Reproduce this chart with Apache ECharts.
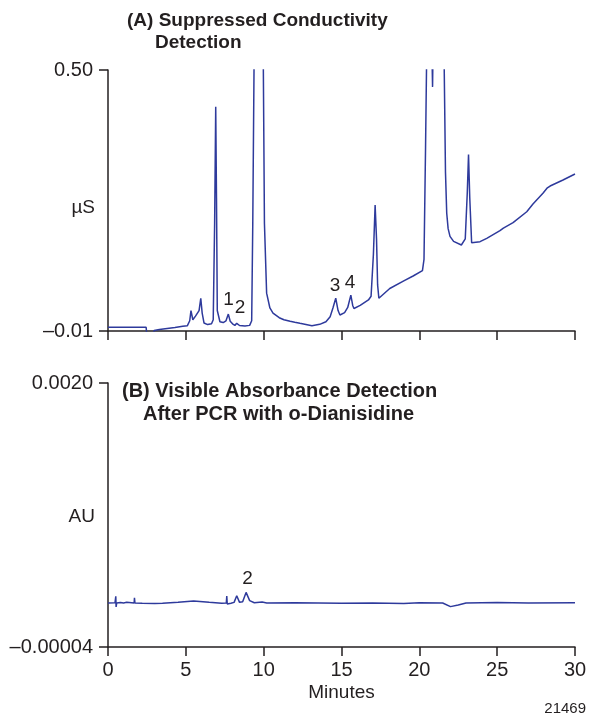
<!DOCTYPE html>
<html>
<head>
<meta charset="utf-8">
<script src="https://cdn.jsdelivr.net/npm/echarts@6/dist/echarts.min.js"></script>
<style>
  html, body { margin: 0; padding: 0; background: #fff; }
  #chart { width: 590px; height: 717px; }
</style>
</head>
<body>
<div id="chart"></div>
<script>
// (A) suppressed conductivity, µS vs minutes (values above 0.50 run off scale)
const timeA = [0, 1, 2, 2.45, 2.5, 2.53, 2.9, 2.96, 3.3, 3.8, 4.3, 4.8, 5.1, 5.25, 5.33, 5.45, 5.52, 5.62, 5.7, 5.85, 5.96, 6.05, 6.17, 6.4, 6.65, 6.76, 6.85, 6.92, 6.97, 7.02, 7.19, 7.4, 7.58, 7.73, 7.85, 8.0, 8.15, 8.27, 8.45, 8.8, 9.1, 9.23, 9.3, 9.38, 9.45, 9.65, 9.85, 9.98, 10.05, 10.19, 10.4, 10.6, 11.0, 11.3, 11.7, 12.0, 12.33, 13.1, 13.6, 14.0, 14.27, 14.45, 14.63, 14.78, 14.9, 15.2, 15.4, 15.6, 15.72, 15.8, 16.2, 16.73, 16.9, 17.05, 17.16, 17.25, 17.32, 17.4, 18.1, 19.0, 19.6, 20.2, 20.3, 20.4, 20.5, 20.65, 20.8, 20.85, 20.9, 21.1, 21.35, 21.6, 21.68, 21.76, 21.85, 21.97, 22.2, 22.7, 22.95, 23.08, 23.16, 23.24, 23.36, 23.9, 24.33, 25.18, 25.4, 26.02, 26.9, 27.3, 27.94, 28.2, 28.4, 29.23, 30];
const signalA = [-0.0028, -0.0028, -0.0025, -0.0028, -0.006, -0.03, -0.03, -0.009, -0.007, -0.005, -0.003, -0.0005, 0.0004, 0.01, 0.0297, 0.012, 0.0115, 0.019, 0.017, 0.03, 0.054, 0.025, 0.0056, 0.0025, 0.004, 0.012, 0.2, 0.428, 0.25, 0.03, 0.008, 0.0065, 0.01, 0.023, 0.009, 0.004, 0.001, 0.005, 0.0008, 0.0, 0.001, 0.01, 0.2, 0.5, 1.2, 2.0, 1.2, 0.5, 0.2, 0.064, 0.035, 0.025, 0.016, 0.012, 0.009, 0.007, 0.005, 0.0004, 0.003, 0.008, 0.018, 0.035, 0.054, 0.03, 0.0213, 0.026, 0.036, 0.06, 0.04, 0.034, 0.04, 0.0506, 0.058, 0.14, 0.236, 0.17, 0.08, 0.054, 0.073, 0.088, 0.0975, 0.108, 0.13, 0.35, 0.6, 1.2, 0.55, 0.467, 0.6, 1.5, 1.0, 0.5, 0.3, 0.22, 0.19, 0.175, 0.165, 0.158, 0.17, 0.26, 0.335, 0.25, 0.1626, 0.1645, 0.171, 0.186, 0.191, 0.2016, 0.223, 0.238, 0.259, 0.269, 0.2733, 0.285, 0.2968];

// (B) visible absorbance after PCR, AU vs minutes
const timeB = [0, 0.45, 0.5, 0.52, 0.56, 0.8, 1.0, 1.2, 1.68, 1.7, 1.73, 2.2, 3.0, 3.5, 4.5, 5.5, 6.5, 7.3, 7.6, 7.63, 7.66, 7.9, 8.1, 8.27, 8.45, 8.65, 8.87, 9.1, 9.4, 9.9, 10.2, 12.0, 15.0, 17.0, 19.0, 20.0, 21.5, 22.0, 22.5, 23.0, 25.0, 27.0, 30];
const signalB = [0.000300, 0.000302, 0.000352, 0.000270, 0.000300, 0.000303, 0.000300, 0.000305, 0.000300, 0.000340, 0.000300, 0.000298, 0.000296, 0.000298, 0.000305, 0.000316, 0.000305, 0.000298, 0.000300, 0.000354, 0.000292, 0.000298, 0.000305, 0.000356, 0.000305, 0.000310, 0.000382, 0.000318, 0.000302, 0.000308, 0.000300, 0.000302, 0.000298, 0.000300, 0.000296, 0.000302, 0.000300, 0.000272, 0.000285, 0.000300, 0.000303, 0.000300, 0.000302];

const peaksA = [['1', 7.75, 0.0506], ['2', 8.48, 0.035], ['3', 14.58, 0.078], ['4', 15.55, 0.084]];
const peaksB = [['2', 8.96, 0.000486]];

const yRangeA = [-0.01, 0.5];
const yRangeB = [-0.00004, 0.002];
const yLabelsA = ['–0.01', '0.50'];
const yLabelsB = ['–0.00004', '0.0020'];

const ink = '#231f20';
const trace = '#2e3a9c';
const font = '"Liberation Sans", Arial, sans-serif';

const zip = (xs, ys) => xs.map((x, i) => [x, ys[i]]);

const xAxisBase = (gridIndex, showLabels) => ({
  type: 'value',
  gridIndex,
  min: 0,
  max: 30,
  interval: 5,
  axisLine: { onZero: false, lineStyle: { color: ink, width: 1.5 } },
  axisTick: { length: 9, lineStyle: { color: ink, width: 1.5 } },
  axisLabel: { show: showLabels, margin: 13, fontSize: 20, color: ink, fontFamily: font },
  splitLine: { show: false }
})

const yAxisBase = (gridIndex, range, labels) => ({
  type: 'value',
  gridIndex,
  min: range[0],
  max: range[1],
  axisLine: { show: true, lineStyle: { color: ink, width: 1.5 } },
  axisTick: { show: true, length: 9, customValues: range, lineStyle: { color: ink, width: 1.5 } },
  axisLabel: {
    customValues: range,
    margin: 15,
    fontSize: 20,
    color: ink,
    fontFamily: font,
    formatter: v => (Math.abs(v - range[0]) < Math.abs(v - range[1]) ? labels[0] : labels[1])
  },
  splitLine: { show: false }
})

// peak numbers sit on invisible scatter points
const peakLabels = (list, idx) => ({
  type: 'scatter',
  xAxisIndex: idx,
  yAxisIndex: idx,
  symbolSize: 0,
  silent: true,
  itemStyle: { opacity: 1 },
  data: list.map(p => ({ value: [p[1], p[2]], name: p[0] })),
  label: {
    show: true,
    position: 'inside',
    formatter: p => p.name,
    fontSize: 19,
    color: ink,
    textBorderWidth: 0,
    fontFamily: font
  }
})

const titleText = (x, y, text, size) => ({
  type: 'text',
  left: x,
  top: y,
  style: { text, font: 'bold ' + size + 'px ' + font, fill: ink }
})

const plainText = (x, y, text, size, align) => ({
  type: 'text',
  x,
  y,
  style: { text, font: size + 'px ' + font, fill: ink, align: align || 'left', verticalAlign: 'middle' }
})

const chart = echarts.init(document.getElementById('chart'), null, { renderer: 'canvas' })

const option = {
  animation: false,
  backgroundColor: '#fff',
  grid: [
    { left: 108, top: 70, width: 467, height: 261 },
    { left: 108, top: 383, width: 467, height: 264 }
  ],
  xAxis: [
    xAxisBase(0, false),
    Object.assign(xAxisBase(1, true), {
      name: 'Minutes',
      nameLocation: 'middle',
      nameGap: 36,
      nameTextStyle: { fontSize: 19, color: ink, fontFamily: font }
    })
  ],
  yAxis: [
    yAxisBase(0, yRangeA, yLabelsA),
    yAxisBase(1, yRangeB, yLabelsB)
  ],
  series: [
    {
      type: 'line',
      xAxisIndex: 0,
      yAxisIndex: 0,
      data: zip(timeA, signalA),
      showSymbol: false,
      clip: true,
      lineStyle: { color: trace, width: 1.5 }
    },
    {
      type: 'line',
      xAxisIndex: 1,
      yAxisIndex: 1,
      data: zip(timeB, signalB),
      showSymbol: false,
      clip: true,
      lineStyle: { color: trace, width: 1.5 }
    },
    peakLabels(peaksA, 0),
    peakLabels(peaksB, 1)
  ],
  graphic: [
    titleText(127, 11, '(A) Suppressed Conductivity', 19),
    titleText(155, 33, 'Detection', 19),
    titleText(122, 381, '(B) Visible Absorbance Detection', 20),
    titleText(143, 404, 'After PCR with o-Dianisidine', 20),
    plainText(95, 208, 'µS', 19, 'right'),
    plainText(95, 517, 'AU', 19, 'right'),
    plainText(586, 709, '21469', 15, 'right')
  ]
}

chart.setOption(option)
</script>
</body>
</html>
